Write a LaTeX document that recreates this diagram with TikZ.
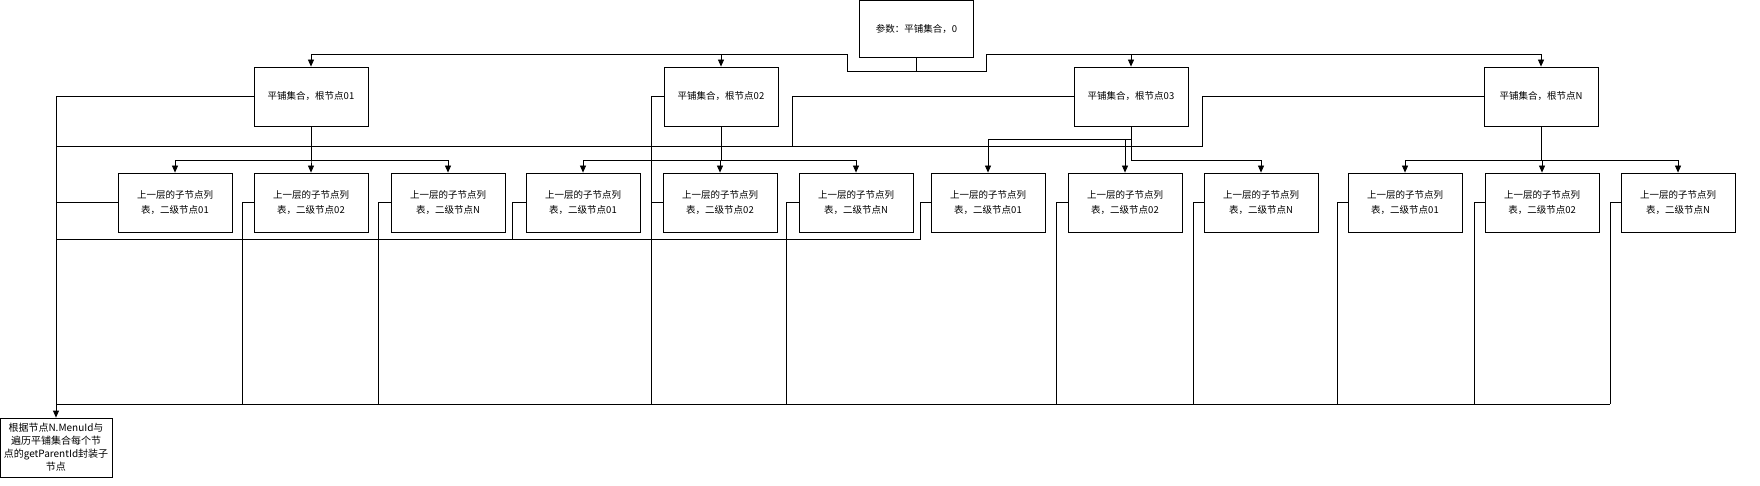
\documentclass[tikz,border=0pt]{standalone}
\usepackage{fontspec}
\setmainfont{Noto Sans CJK SC}
\usetikzlibrary{arrows.meta}
\tikzset{
  box/.style={draw, thick, minimum width=114pt, minimum height=59pt, inner sep=1pt, align=center, font=\fontsize{9.5}{15}\selectfont},
  arr/.style={-{Triangle[length=7pt,width=6pt]}},
  wire/.style={thick}
}
\begin{document}
\begin{tikzpicture}[x=1pt,y=-1pt]
        \useasboundingbox (0,0) rectangle (1760,486);

        % Top node and root nodes
        \node[box, minimum height=57pt] (top) at (916.5,28.5) {参数：平铺集合，0};
        \foreach \i/\x/\t in {1/311/01, 2/721/02, 3/1131/03, 4/1541/N}
          \node[box] (r\i) at (\x,96.5) {平铺集合，根节点\t};

        % Child nodes
        \foreach \i/\x/\t in {1/175/01, 2/311/02, 3/448/N, 4/583/01, 5/720/02, 6/856/N,
                              7/988/01, 8/1125/02, 9/1261/N, 10/1405/01, 11/1542/02, 12/1678/N}
          \node[box] (c\i) at (\x,202.5) {上一层的子节点列\\表，二级节点\t};

        % Result node
        \node[box, minimum width=112pt, font=\fontsize{10}{13}\selectfont] (res) at (56,447.5)
          {根据节点N.MenuId与\\遍历平铺集合每个节\\点的getParentId封装子\\节点};

        % Top to roots
        \coordinate (tj) at (916.5,71);
        \draw[wire] (top.south) -- (tj);
        \draw[wire,arr] (tj) -- (986,71) -- (986,54) -| (r4.north);
        \draw[wire,arr] (tj) -- (847,71) -- (847,54) -| (r1.north);
        \draw[wire,arr] (r1.north |- 0,54) -| (r2.north);
        \draw[wire,arr] (r4.north |- 0,54) -| (r3.north);

        % Roots to children
        \foreach \c in {c1,c2,c3} \draw[wire,arr] (r1.south) -- ++(0,34) -| (\c.north);
        \foreach \c in {c4,c5,c6} \draw[wire,arr] (r2.south) -- ++(0,34) -| (\c.north);
        \foreach \c in {c7,c8} \draw[wire,arr] (r3.south) -- ++(0,13) -| (\c.north);
        \draw[wire,arr] (r3.south) -- ++(0,34) -| (c9.north);
        \foreach \c in {c10,c11,c12} \draw[wire,arr] (r4.south) -- ++(0,34) -| (\c.north);

        % Feedback lines to result node
        \draw[wire,arr] (r1.west) -| (res.north);
        \draw[wire] (r2.west) -| (651,404);
        \draw[wire] (r3.west) -| (792,146);
        \draw[wire] (r4.west) -| (1202,146) -- (res.north |- 0,146);
        \draw[wire] (c1.west) -- (res.north |- c1.west);
        \draw[wire] (c4.west) -| (512,239);
        \draw[wire] (c7.west) -| (920,239) -- (res.north |- 0,239);
        \foreach \c/\fx in {c2/242, c3/378, c5/651, c6/786, c8/1056, c9/1193, c10/1337, c11/1474, c12/1610}
          \draw[wire] (\c.west) -| (\fx,404);
        \draw[wire] (res.north |- 0,404) -- (1610,404);
    \end{tikzpicture}
\end{document}
